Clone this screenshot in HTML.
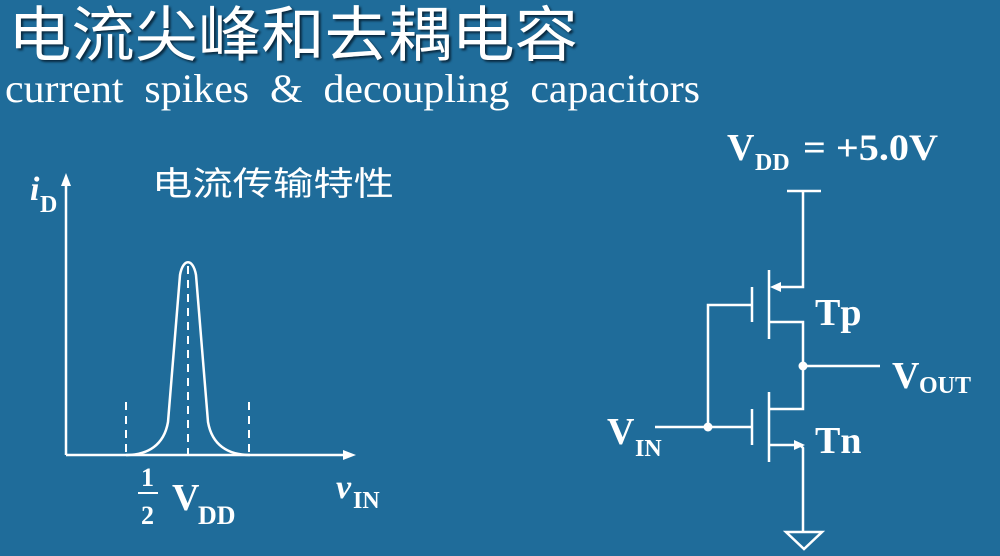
<!DOCTYPE html>
<html><head><meta charset="utf-8"><style>
html,body{margin:0;padding:0;background:#1f6c9a;}
svg{display:block}
</style></head><body>
<svg width="1000" height="556" viewBox="0 0 1000 556" xmlns="http://www.w3.org/2000/svg">
<rect width="1000" height="556" fill="#1f6c9a"/>
<g fill="#fff">
<text x="8" y="56" font-family="Noto Sans CJK SC, sans-serif" font-size="60" textLength="570" lengthAdjust="spacingAndGlyphs" style="text-shadow:2px 2px 2px #0a2a40">电流尖峰和去耦电容</text>
<text x="5" y="102" font-family="Liberation Serif, serif" font-size="40" textLength="695" lengthAdjust="spacingAndGlyphs" xml:space="preserve">current  spikes  &amp;  decoupling  capacitors</text>
<text x="152" y="195" font-family="Noto Sans CJK SC, sans-serif" font-size="33" textLength="242" lengthAdjust="spacingAndGlyphs">电流传输特性</text>
<text x="30" y="200" font-family="Liberation Serif, serif" font-size="34" font-weight="bold" font-style="italic">i</text>
<text x="40" y="212" font-family="Liberation Serif, serif" font-size="24" font-weight="bold">D</text>
<text x="336" y="498" font-family="Liberation Serif, serif" font-size="34" font-weight="bold" font-style="italic">v</text>
<text x="353" y="508" font-family="Liberation Serif, serif" font-size="24" font-weight="bold">IN</text>
<text x="141" y="486" font-family="Liberation Serif, serif" font-size="26" font-weight="bold">1</text>
<text x="141" y="524" font-family="Liberation Serif, serif" font-size="26" font-weight="bold">2</text>
<rect x="138" y="492" width="20" height="2"/>
<text x="172" y="510" font-family="Liberation Serif, serif" font-size="38" font-weight="bold">V</text>
<text x="198" y="524" font-family="Liberation Serif, serif" font-size="26" font-weight="bold">DD</text>
<text x="727" y="160" font-family="Liberation Serif, serif" font-size="38" font-weight="bold">V</text>
<text x="755" y="170" font-family="Liberation Serif, serif" font-size="24" font-weight="bold">DD</text>
<text x="803" y="160" font-family="Liberation Serif, serif" font-size="37" font-weight="bold" textLength="135" lengthAdjust="spacingAndGlyphs">= +5.0V</text>
<text x="815" y="325" font-family="Liberation Serif, serif" font-size="38" font-weight="bold">Tp</text>
<text x="815" y="453" font-family="Liberation Serif, serif" font-size="38" font-weight="bold">Tn</text>
<text x="892" y="388" font-family="Liberation Serif, serif" font-size="38" font-weight="bold">V</text>
<text x="919" y="393" font-family="Liberation Serif, serif" font-size="24" font-weight="bold">OUT</text>
<text x="607" y="444" font-family="Liberation Serif, serif" font-size="38" font-weight="bold">V</text>
<text x="635" y="456" font-family="Liberation Serif, serif" font-size="24" font-weight="bold">IN</text>
</g>
<g stroke="#fff" stroke-width="2.5" fill="none">
<line x1="66" y1="455" x2="66" y2="180"/>
<line x1="66" y1="455" x2="348" y2="455"/>
<path d="M126 455 C148 455 164 445 168 422 L180 275 C183 258 193 258 196 275 L208 422 C212 445 228 455 250 455"/>
<g stroke-dasharray="8,6" stroke-width="2">
<line x1="126" y1="402" x2="126" y2="455"/>
<line x1="249" y1="402" x2="249" y2="455"/>
<line x1="188" y1="266" x2="188" y2="455"/>
</g>
<line x1="787" y1="191" x2="821" y2="191"/>
<polyline points="803,191 803,287 774,287"/>
<line x1="769" y1="270" x2="769" y2="339"/>
<line x1="752" y1="287" x2="752" y2="322"/>
<polyline points="752,305 708,305 708,427"/>
<polyline points="769,322 803,322 803,409 769,409"/>
<line x1="803" y1="366" x2="880" y2="366"/>
<line x1="769" y1="392" x2="769" y2="462"/>
<line x1="752" y1="409" x2="752" y2="445"/>
<line x1="655" y1="427" x2="752" y2="427"/>
<polyline points="769,445 800,445 803,448 803,532"/>
<polygon points="786,532 822,532 804,549"/>
</g>
<g fill="#fff">
<polygon points="66,173 61,186 71,186"/>
<polygon points="356,455 343,450 343,460"/>
<polygon points="770,287 781,282 781,292"/>
<polygon points="805,445 794,440 794,450"/>
<circle cx="803" cy="366" r="4.5"/>
<circle cx="708" cy="427" r="4.5"/>
</g>
</svg>
</body></html>
